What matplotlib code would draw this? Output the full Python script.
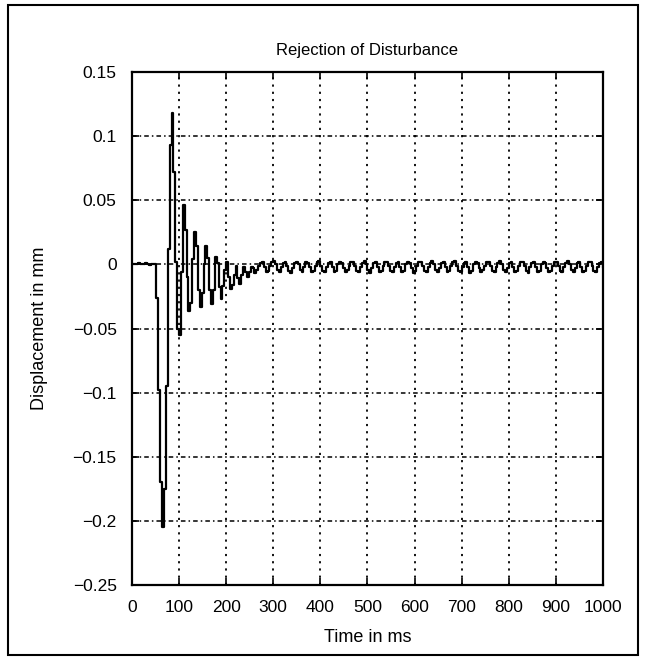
import numpy as np
import matplotlib
matplotlib.use("Agg")
import matplotlib.pyplot as plt
from matplotlib.patches import Rectangle

plt.rcParams['font.family'] = ['Liberation Sans', 'DejaVu Sans']

SAMPLE_MS = 4

# displacement samples (mm), one every 4 ms
disp_before = [0, 0, 0.0005, 0.001, 0.0005, 0, 0.0005, 0.001, 0, -0.0005, 0, 0.0005, 0]

disp_transient = [
    -0.026, -0.098, -0.170, -0.205, -0.175, -0.095,
    0.012, 0.093, 0.118, 0.072, 0.002, -0.050,
    -0.055, -0.006, 0.046, 0.027, -0.010, -0.036,
    -0.030, 0.004, 0.025, 0.014, -0.020, -0.033,
    -0.022, 0.000, 0.014, 0.005, -0.020, -0.031,
    -0.020, 0.006, 0.001, -0.018, -0.027, -0.017,
    -0.004, 0.002, -0.010, -0.019, -0.016, -0.008,
    -0.001, -0.011, -0.015, -0.008, -0.002, -0.006,
    -0.010, -0.006, -0.002, -0.003, -0.007, -0.004,
    -0.001,
]

disp_steady = [
    0.001, 0.002, -0.002, -0.006, -0.005, -0.001,
    0.002, 0.003, 0.000, -0.004, -0.006, -0.002,
    0.001, 0.002, -0.001, -0.005, -0.007, -0.003,
    0.001, 0.002, 0.000, -0.004, -0.006, -0.002,
    0.002, 0.001, -0.002, -0.006, -0.005, -0.001,
    0.002, 0.003, -0.001, -0.005, -0.006, -0.002,
    0.001, 0.002, -0.002, -0.006, -0.005, 0.000,
    0.002, 0.001, -0.003, -0.006, -0.004, -0.001,
    0.002, 0.002, -0.001, -0.005, -0.006, -0.002,
    0.001, 0.003, 0.000, -0.004, -0.007, -0.003,
    0.001, 0.002, -0.002, -0.006, -0.005, -0.001,
    0.002, 0.002, -0.001, -0.005, -0.006, -0.002,
    0.001, 0.002, -0.002, -0.006, -0.005, 0.000,
    0.002, 0.001, -0.003, -0.007, -0.005, -0.001,
    0.002, 0.002, -0.001, -0.005, -0.006, -0.002,
    0.001, 0.003, 0.000, -0.004, -0.006, -0.003,
    0.001, 0.002, -0.002, -0.006, -0.005, -0.001,
    0.002, 0.003, -0.001, -0.005, -0.006, -0.002,
    0.001, 0.002, -0.002, -0.007, -0.005, 0.000,
    0.002, 0.001, -0.003, -0.006, -0.004, -0.001,
    0.002, 0.002, -0.001, -0.005, -0.006, -0.002,
    0.001, 0.003, 0.000, -0.004, -0.006, -0.003,
    0.001, 0.002, -0.002, -0.006, -0.005, -0.001,
    0.002, 0.002, -0.001, -0.005, -0.007, -0.002,
    0.001, 0.002, -0.002, -0.006, -0.005, 0.000,
    0.002, 0.001, -0.003, -0.006, -0.005, -0.001,
    0.002, 0.002, -0.001, -0.005, -0.006, -0.002,
    0.001, 0.003, 0.000, -0.004, -0.006, -0.003,
    0.001, 0.002, -0.002, -0.006, -0.005, -0.001,
    0.002, 0.002, -0.001, -0.005, -0.006, -0.002,
    0.001, 0.002, -0.002,
]

x_ticks = [0, 100, 200, 300, 400, 500, 600, 700, 800, 900, 1000]
y_ticks = [0.15, 0.1, 0.05, 0, -0.05, -0.1, -0.15, -0.2, -0.25]
y_tick_labels = ["0.15", "0.1", "0.05", "0", "\u22120.05", "\u22120.1",
                 "\u22120.15", "\u22120.2", "\u22120.25"]

disp = np.array(disp_before + disp_transient + disp_steady)
time = np.arange(len(disp)) * SAMPLE_MS

fig = plt.figure(figsize=(6.46, 6.63), dpi=100)
fig.patches.append(Rectangle((0.0124, 0.012), 0.975, 0.980, transform=fig.transFigure,
                             fill=False, edgecolor='black', linewidth=1.5))

ax = fig.add_axes([0.2043, 0.1176, 0.729, 0.7738])
ax.step(time, disp, where='post', color='black', linewidth=1.6)

ax.set_xlim(0, 1000)
ax.set_ylim(-0.25, 0.15)
ax.set_xticks(x_ticks)
ax.set_xticklabels([str(v) for v in x_ticks])
ax.set_yticks(y_ticks)
ax.set_yticklabels(y_tick_labels)
ax.tick_params(direction='in', length=5, width=1.2, labelsize=12.5, pad=11,
               top=True, right=True)

# MATLAB style grid: dotted verticals, dash-dot horizontals
for v in x_ticks[1:-1]:
    ax.axvline(v, color='black', linewidth=1.3, linestyle=(0, (1.2, 2.8)), zorder=0)
for v in y_ticks[1:-1]:
    ax.axhline(v, color='black', linewidth=1.1, linestyle=(0, (3, 2, 1, 2)), zorder=0)

for s in ax.spines.values():
    s.set_linewidth(1.6)

ax.set_title("Rejection of Disturbance", fontsize=12, pad=12)
ax.set_xlabel("Time in ms", fontsize=13, labelpad=10)
ax.set_ylabel("Displacement in mm", fontsize=13, labelpad=18)

fig.savefig("out.png", dpi=100)
